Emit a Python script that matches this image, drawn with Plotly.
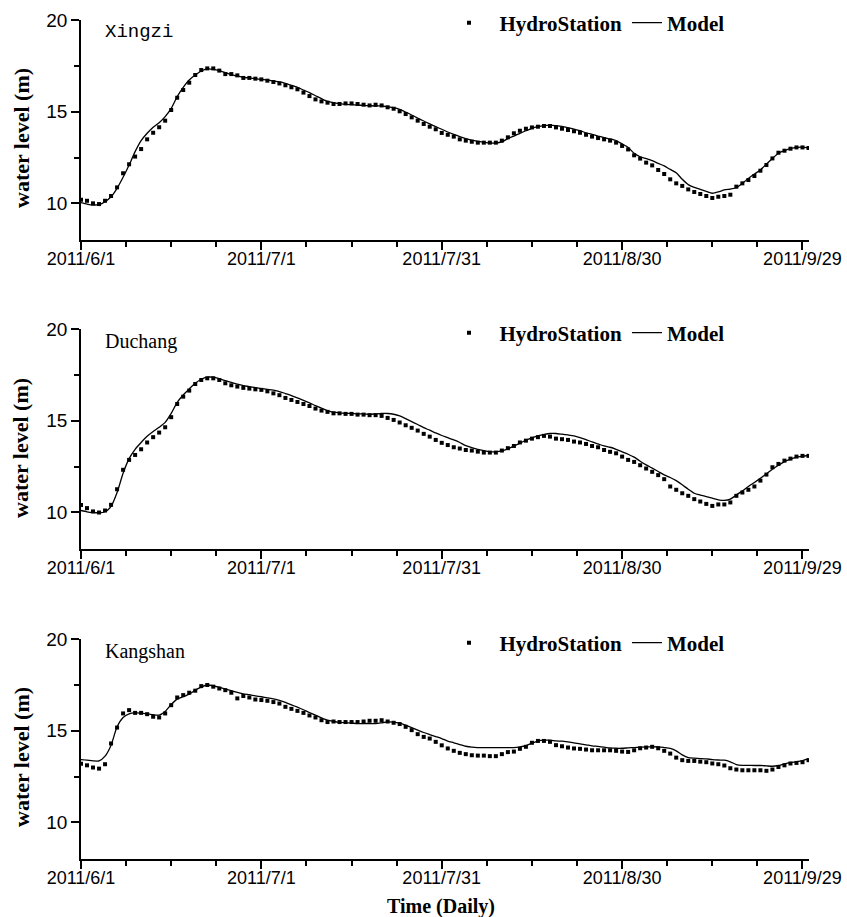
import pandas as pd
import plotly.graph_objects as go

# ---------------- data ----------------
dates = pd.date_range("2011-06-01", periods=122, freq="D")

stations = ["Xingzi", "Duchang", "Kangshan"]

xingzi_obs = [
    10.20, 10.14, 10.00, 9.96, 10.14, 10.40, 10.87, 11.64, 12.13, 12.55,
    12.96, 13.49, 13.85, 14.15, 14.51, 15.09, 15.76, 16.18, 16.58, 17.00,
    17.27, 17.36, 17.36, 17.24, 17.05, 17.05, 16.98, 16.84, 16.84, 16.80,
    16.76, 16.69, 16.62, 16.54, 16.44, 16.33, 16.22, 16.04, 15.85, 15.67,
    15.56, 15.49, 15.42, 15.42, 15.45, 15.45, 15.42, 15.38, 15.34, 15.38,
    15.34, 15.24, 15.16, 15.02, 14.87, 14.69, 14.51, 14.33, 14.18, 14.04,
    13.84, 13.74, 13.64, 13.49, 13.42, 13.36, 13.31, 13.31, 13.31, 13.31,
    13.42, 13.60, 13.82, 13.96, 14.07, 14.14, 14.18, 14.22, 14.22, 14.14,
    14.07, 14.00, 13.93, 13.85, 13.74, 13.64, 13.56, 13.49, 13.42, 13.31,
    13.13, 12.94, 12.62, 12.44, 12.22, 12.07, 11.82, 11.60, 11.31, 11.09,
    10.95, 10.76, 10.62, 10.51, 10.40, 10.29, 10.36, 10.40, 10.47, 10.91,
    11.09, 11.27, 11.49, 11.78, 12.09, 12.45, 12.76, 12.87, 12.98, 13.05,
    13.05, 13.02,
]
xingzi_model = [
    10.04, 9.96, 9.91, 9.93, 10.09, 10.36, 10.82, 11.42, 12.09, 12.82,
    13.42, 13.82, 14.15, 14.40, 14.73, 15.18, 15.82, 16.33, 16.73, 17.00,
    17.22, 17.33, 17.31, 17.24, 17.13, 17.02, 16.94, 16.87, 16.84, 16.80,
    16.76, 16.73, 16.67, 16.62, 16.54, 16.44, 16.33, 16.18, 16.04, 15.87,
    15.71, 15.56, 15.49, 15.44, 15.40, 15.38, 15.36, 15.34, 15.33, 15.31,
    15.31, 15.27, 15.22, 15.13, 14.98, 14.82, 14.65, 14.49, 14.33, 14.18,
    14.04, 13.89, 13.76, 13.64, 13.53, 13.45, 13.38, 13.33, 13.29, 13.29,
    13.35, 13.53, 13.67, 13.82, 13.96, 14.09, 14.18, 14.24, 14.27, 14.24,
    14.20, 14.13, 14.05, 13.96, 13.85, 13.76, 13.67, 13.58, 13.51, 13.42,
    13.24, 13.05, 12.73, 12.54, 12.44, 12.33, 12.18, 12.04, 11.85, 11.67,
    11.31, 11.02, 10.87, 10.76, 10.65, 10.55, 10.62, 10.73, 10.78, 10.85,
    11.09, 11.36, 11.60, 11.82, 12.14, 12.45, 12.73, 12.87, 12.98, 13.05,
    13.07, 13.02,
]

duchang_obs = [
    10.40, 10.23, 10.05, 9.99, 10.10, 10.41, 11.26, 12.32, 12.86, 13.13,
    13.44, 13.81, 14.10, 14.35, 14.64, 15.19, 15.91, 16.31, 16.64, 17.00,
    17.22, 17.31, 17.31, 17.22, 17.04, 16.93, 16.86, 16.79, 16.75, 16.71,
    16.68, 16.60, 16.49, 16.39, 16.24, 16.13, 16.02, 15.91, 15.80, 15.66,
    15.55, 15.48, 15.40, 15.40, 15.37, 15.37, 15.33, 15.33, 15.30, 15.30,
    15.26, 15.15, 15.04, 14.90, 14.75, 14.61, 14.46, 14.28, 14.13, 13.95,
    13.79, 13.67, 13.55, 13.48, 13.40, 13.37, 13.31, 13.26, 13.26, 13.26,
    13.37, 13.50, 13.62, 13.81, 13.91, 14.02, 14.10, 14.17, 14.13, 14.02,
    13.99, 13.95, 13.86, 13.81, 13.73, 13.62, 13.55, 13.40, 13.30, 13.22,
    13.04, 12.86, 12.75, 12.57, 12.39, 12.21, 12.03, 11.81, 11.41, 11.23,
    11.04, 10.90, 10.72, 10.59, 10.46, 10.35, 10.43, 10.43, 10.54, 10.90,
    11.08, 11.23, 11.41, 11.73, 12.06, 12.46, 12.64, 12.82, 12.93, 13.04,
    13.08, 13.08,
]
duchang_model = [
    10.10, 10.03, 9.99, 9.97, 10.03, 10.32, 11.08, 12.13, 12.93, 13.44,
    13.81, 14.15, 14.41, 14.64, 14.91, 15.40, 16.00, 16.40, 16.73, 17.04,
    17.26, 17.37, 17.37, 17.29, 17.18, 17.09, 16.99, 16.91, 16.86, 16.80,
    16.75, 16.71, 16.66, 16.59, 16.48, 16.37, 16.24, 16.11, 15.97, 15.82,
    15.68, 15.55, 15.46, 15.42, 15.40, 15.39, 15.37, 15.37, 15.35, 15.37,
    15.39, 15.39, 15.35, 15.26, 15.11, 14.95, 14.79, 14.62, 14.48, 14.33,
    14.19, 14.07, 13.95, 13.81, 13.64, 13.53, 13.44, 13.37, 13.31, 13.30,
    13.35, 13.46, 13.61, 13.77, 13.93, 14.06, 14.17, 14.24, 14.30, 14.30,
    14.26, 14.22, 14.17, 14.08, 13.97, 13.84, 13.73, 13.62, 13.55, 13.44,
    13.30, 13.17, 13.01, 12.79, 12.59, 12.41, 12.23, 12.04, 11.90, 11.73,
    11.50, 11.26, 11.04, 10.94, 10.86, 10.77, 10.68, 10.65, 10.72, 10.95,
    11.17, 11.41, 11.63, 11.86, 12.10, 12.35, 12.57, 12.77, 12.90, 13.01,
    13.06, 13.10,
]

kangshan_obs = [
    13.20, 13.11, 12.99, 12.93, 13.17, 14.30, 15.17, 15.94, 16.12, 15.97,
    15.97, 15.90, 15.76, 15.72, 15.94, 16.39, 16.81, 16.94, 17.07, 17.18,
    17.43, 17.49, 17.40, 17.30, 17.21, 17.07, 16.76, 16.89, 16.81, 16.70,
    16.67, 16.63, 16.56, 16.48, 16.30, 16.19, 16.08, 15.97, 15.83, 15.72,
    15.57, 15.47, 15.50, 15.47, 15.47, 15.47, 15.47, 15.50, 15.54, 15.54,
    15.57, 15.50, 15.43, 15.36, 15.21, 15.03, 14.81, 14.66, 14.57, 14.39,
    14.20, 14.03, 13.90, 13.79, 13.72, 13.66, 13.64, 13.64, 13.61, 13.61,
    13.72, 13.83, 13.86, 14.01, 14.12, 14.34, 14.44, 14.44, 14.39, 14.21,
    14.15, 14.08, 14.03, 14.01, 13.97, 13.93, 13.93, 13.93, 13.93, 13.90,
    13.86, 13.84, 13.93, 14.04, 14.08, 14.12, 14.04, 13.90, 13.75, 13.53,
    13.39, 13.35, 13.35, 13.31, 13.28, 13.21, 13.17, 13.10, 12.95, 12.88,
    12.84, 12.84, 12.84, 12.84, 12.81, 12.88, 13.02, 13.11, 13.21, 13.24,
    13.28, 13.39,
]
kangshan_model = [
    13.42, 13.39, 13.35, 13.35, 13.61, 14.21, 15.21, 15.72, 15.92, 15.97,
    15.96, 15.92, 15.87, 15.85, 16.05, 16.43, 16.72, 16.85, 16.99, 17.21,
    17.38, 17.49, 17.45, 17.36, 17.27, 17.18, 17.09, 17.01, 16.96, 16.90,
    16.85, 16.79, 16.74, 16.65, 16.54, 16.41, 16.28, 16.14, 15.99, 15.85,
    15.70, 15.57, 15.50, 15.45, 15.43, 15.41, 15.39, 15.39, 15.39, 15.39,
    15.43, 15.48, 15.47, 15.41, 15.30, 15.17, 15.03, 14.90, 14.79, 14.68,
    14.57, 14.43, 14.34, 14.24, 14.15, 14.10, 14.08, 14.08, 14.08, 14.08,
    14.08, 14.08, 14.08, 14.12, 14.19, 14.32, 14.43, 14.48, 14.48, 14.44,
    14.43, 14.39, 14.34, 14.28, 14.23, 14.17, 14.14, 14.10, 14.06, 14.04,
    14.04, 14.06, 14.08, 14.10, 14.12, 14.12, 14.12, 14.08, 14.03, 13.90,
    13.68, 13.53, 13.50, 13.48, 13.46, 13.42, 13.40, 13.39, 13.30, 13.15,
    13.11, 13.11, 13.10, 13.10, 13.08, 13.06, 13.10, 13.19, 13.26, 13.31,
    13.37, 13.46,
]

obs_series = [xingzi_obs, duchang_obs, kangshan_obs]
model_series = [xingzi_model, duchang_model, kangshan_model]

x_tick_vals = ["2011-06-01", "2011-07-01", "2011-07-31", "2011-08-30", "2011-09-29"]
x_tick_text = ["2011/6/1", "2011/7/1", "2011/7/31", "2011/8/30", "2011/9/29"]
y_tick_vals = [10, 15, 20]
y_range = [8, 20]
x_range = ["2011-06-01", "2011-09-30 02:00"]

# ---------------- layout geometry ----------------
W, H = 847, 917
x_dom = [81 / W, 809 / W]
panels_px = [(20, 240), (329, 549), (639, 859)]
legend_y_px = [23, 333, 643]
label_y_px = [32, 341, 651]
ytitle_y_px = [138, 448, 757]
label_fonts = ["Liberation Mono", "Liberation Serif", "Liberation Serif"]
label_sizes = [19, 20, 20]

SANS = "Liberation Sans"
SERIF = "Liberation Serif"
NB = "\u00a0"

fig = go.Figure()
legend_names = ["legend", "legend2", "legend3"]
layout = dict(
    width=W, height=H, autosize=False,
    margin=dict(l=0, r=0, t=0, b=0),
    paper_bgcolor="white", plot_bgcolor="white",
    annotations=[],
)

for i in range(3):
    sx = "" if i == 0 else str(i + 1)
    fig.add_trace(go.Scatter(
        x=dates, y=obs_series[i], mode="markers", name=NB * 2 + "HydroStation",
        marker=dict(symbol="square", size=4, color="black"),
        xaxis="x" + sx, yaxis="y" + sx, legend=legend_names[i],
    ))
    fig.add_trace(go.Scatter(
        x=dates, y=model_series[i], mode="lines", name="Model",
        line=dict(color="black", width=1.3, shape="spline", smoothing=0.6),
        xaxis="x" + sx, yaxis="y" + sx, legend=legend_names[i],
    ))
    top, bot = panels_px[i]
    layout["xaxis" + sx] = dict(
        domain=x_dom, anchor="y" + sx, type="date", range=x_range,
        showline=True, linecolor="black", linewidth=1.6,
        ticks="outside", ticklen=8, tickwidth=1.5, tickcolor="black",
        tickmode="array", tickvals=x_tick_vals, ticktext=x_tick_text,
        tickfont=dict(family=SANS, size=18, color="black"),
        ticklabelstandoff=-6,
        showgrid=False, zeroline=False, automargin=False,
        minor=dict(ticks="outside", ticklen=5, tickwidth=1.5, tickcolor="black",
                   tick0="2011-06-01", dtick=7.5 * 86400000, showgrid=False),
    )
    layout["yaxis" + sx] = dict(
        domain=[1 - bot / H, 1 - top / H], anchor="x" + sx, range=y_range,
        showline=True, linecolor="black", linewidth=1.6,
        ticks="outside", ticklen=8, tickwidth=1.5, tickcolor="black",
        tickmode="array", tickvals=y_tick_vals,
        tickfont=dict(family=SANS, size=19, color="black"),
        showgrid=False, zeroline=False, automargin=False,
        minor=dict(ticks="outside", ticklen=5, tickwidth=1.5, tickcolor="black",
                   tick0=0, dtick=2.5, showgrid=False),
    )
    layout[legend_names[i]] = dict(
        orientation="h", x=449 / W, xanchor="left",
        y=1 - legend_y_px[i] / H, yanchor="middle",
        font=dict(family=SERIF, size=21, color="black", weight="bold"),
        bgcolor="rgba(0,0,0,0)", borderwidth=0, itemwidth=30,
    )
    layout["annotations"].append(dict(
        text=stations[i], xref="paper", yref="paper",
        x=103 / W, y=1 - label_y_px[i] / H, xanchor="left", yanchor="middle",
        showarrow=False, font=dict(family=label_fonts[i], size=label_sizes[i], color="black"),
    ))
    layout["annotations"].append(dict(
        text="<b>water level (m)</b>", xref="paper", yref="paper",
        x=21 / W, y=1 - ytitle_y_px[i] / H, xanchor="center", yanchor="middle",
        textangle=-90, showarrow=False,
        font=dict(family=SERIF, size=22, color="black"),
    ))

layout["annotations"].append(dict(
    text="<b>Time (Daily)</b>", xref="paper", yref="paper",
    x=441 / W, y=1 - 906 / H, xanchor="center", yanchor="middle",
    showarrow=False, font=dict(family=SERIF, size=20, color="black"),
))

fig.update_layout(**layout)
fig.write_html("out.html")
